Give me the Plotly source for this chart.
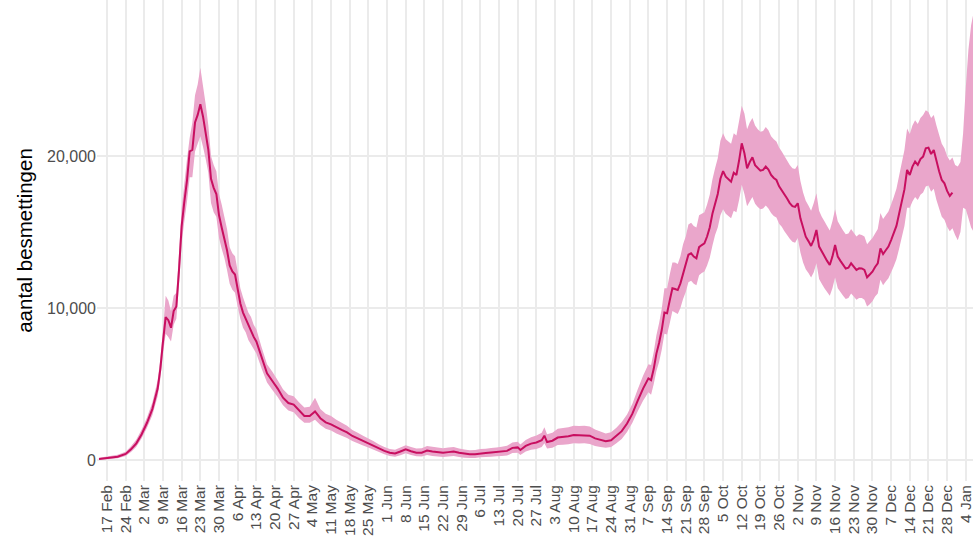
import plotly.graph_objects as go

# ---- data ----
line_dates = [
    "2020-02-14", "2020-02-17", "2020-02-21", "2020-02-24", "2020-02-26", "2020-02-28",
    "2020-03-01", "2020-03-03", "2020-03-05", "2020-03-07", "2020-03-08", "2020-03-09",
    "2020-03-10", "2020-03-11", "2020-03-12", "2020-03-13", "2020-03-14", "2020-03-15",
    "2020-03-16", "2020-03-17", "2020-03-18", "2020-03-19", "2020-03-20", "2020-03-21",
    "2020-03-22", "2020-03-23", "2020-03-24", "2020-03-25", "2020-03-26", "2020-03-27",
    "2020-03-28", "2020-03-29", "2020-03-30", "2020-03-31", "2020-04-01", "2020-04-02",
    "2020-04-03", "2020-04-04", "2020-04-05", "2020-04-06", "2020-04-07", "2020-04-08",
    "2020-04-09", "2020-04-10", "2020-04-11", "2020-04-12", "2020-04-13",
    "2020-04-15", "2020-04-17", "2020-04-19", "2020-04-21", "2020-04-23", "2020-04-25",
    "2020-04-27", "2020-04-29", "2020-05-01", "2020-05-03", "2020-05-05", "2020-05-07",
    "2020-05-09", "2020-05-11", "2020-05-13", "2020-05-15", "2020-05-17", "2020-05-19",
    "2020-05-21", "2020-05-23", "2020-05-25", "2020-05-27", "2020-05-29", "2020-05-31",
    "2020-06-02", "2020-06-04", "2020-06-06", "2020-06-08", "2020-06-10", "2020-06-12",
    "2020-06-14", "2020-06-16", "2020-06-18", "2020-06-20", "2020-06-22", "2020-06-24",
    "2020-06-26", "2020-06-28", "2020-06-30", "2020-07-02", "2020-07-04", "2020-07-06",
    "2020-07-08", "2020-07-10", "2020-07-12", "2020-07-14", "2020-07-16", "2020-07-18",
    "2020-07-20", "2020-07-21", "2020-07-23", "2020-07-25", "2020-07-27", "2020-07-29",
    "2020-07-30", "2020-07-31", "2020-08-02", "2020-08-04", "2020-08-06", "2020-08-08",
    "2020-08-10", "2020-08-12", "2020-08-14", "2020-08-16", "2020-08-18", "2020-08-20",
    "2020-08-22", "2020-08-24", "2020-08-26", "2020-08-28", "2020-08-30", "2020-09-01",
    "2020-09-03", "2020-09-05", "2020-09-07", "2020-09-08", "2020-09-09", "2020-09-10",
    "2020-09-11", "2020-09-12", "2020-09-13", "2020-09-14", "2020-09-15", "2020-09-16",
    "2020-09-17", "2020-09-18", "2020-09-19", "2020-09-20", "2020-09-21", "2020-09-22",
    "2020-09-23", "2020-09-24", "2020-09-25", "2020-09-26", "2020-09-27", "2020-09-28",
    "2020-09-29", "2020-09-30", "2020-10-01", "2020-10-02", "2020-10-03", "2020-10-04",
    "2020-10-05", "2020-10-06", "2020-10-07", "2020-10-08", "2020-10-09", "2020-10-10",
    "2020-10-11", "2020-10-12", "2020-10-13", "2020-10-14", "2020-10-15", "2020-10-16",
    "2020-10-17", "2020-10-18", "2020-10-19", "2020-10-20", "2020-10-21", "2020-10-22",
    "2020-10-23", "2020-10-24", "2020-10-25", "2020-10-26", "2020-10-27", "2020-10-28",
    "2020-10-29", "2020-10-30", "2020-10-31", "2020-11-01", "2020-11-02", "2020-11-03",
    "2020-11-04", "2020-11-05", "2020-11-06", "2020-11-07", "2020-11-08", "2020-11-09",
    "2020-11-10", "2020-11-11", "2020-11-12", "2020-11-13", "2020-11-14", "2020-11-15",
    "2020-11-16", "2020-11-17", "2020-11-18", "2020-11-19", "2020-11-20", "2020-11-21",
    "2020-11-22", "2020-11-23", "2020-11-24", "2020-11-25", "2020-11-26", "2020-11-27",
    "2020-11-28", "2020-11-29", "2020-11-30", "2020-12-01", "2020-12-02", "2020-12-03",
    "2020-12-04", "2020-12-05", "2020-12-06", "2020-12-07", "2020-12-08", "2020-12-09",
    "2020-12-10", "2020-12-11", "2020-12-12", "2020-12-13", "2020-12-14", "2020-12-15",
    "2020-12-16", "2020-12-17", "2020-12-18", "2020-12-19", "2020-12-20", "2020-12-21",
    "2020-12-22", "2020-12-23", "2020-12-24", "2020-12-25", "2020-12-26", "2020-12-27",
    "2020-12-28", "2020-12-29", "2020-12-30",
]

infections = [
    60, 130, 220, 400, 700, 1100,
    1700, 2450, 3350, 4700, 6000, 7800,
    9400, 9200, 8700, 9800, 10100, 12500,
    15400, 17000, 18400, 20300, 20400, 22200,
    22700, 23400, 22600, 21500, 20400, 18500,
    17900, 17500, 16100, 15300, 14600, 13800,
    12800, 12400, 12200, 11200, 10300, 9700,
    9300, 8800, 8500, 8100, 7800,
    6700, 5700, 5200, 4700, 4100, 3750,
    3650, 3250, 2900, 2900, 3200, 2750,
    2480, 2350, 2150, 1980, 1820, 1580,
    1420, 1250, 1100, 940, 760, 600,
    480, 430, 560, 700, 580, 480,
    480, 620, 560, 520, 480, 520,
    560, 480, 420, 380, 380, 440,
    460, 490, 520, 560, 600, 800,
    830, 660, 930, 1080, 1150, 1300,
    1600, 1180, 1270, 1480, 1520, 1560,
    1650, 1620, 1640, 1600, 1420, 1320,
    1240, 1300, 1580, 1900, 2400, 3050,
    3900, 4700, 5370, 5260, 6000, 7000,
    7700, 8550, 9700, 9650, 10500, 11300,
    11250, 11180, 11620, 12300, 12800, 13500,
    13600, 13380, 13270, 14000, 14140, 14250,
    14700, 15300, 16200, 16900, 17500, 18500,
    19000, 18640, 18450, 18310, 18900, 18750,
    19700, 20830, 20180, 19190, 19600, 19910,
    19400, 19190, 19030, 19080, 19300, 19100,
    18750, 18550, 18420, 18000, 17750, 17450,
    17200, 16900, 16700, 16650, 16890, 15900,
    15200, 14690, 14400, 14080, 14500, 15130,
    14040, 13700, 13380, 13100, 12830, 13380,
    14140, 13380, 13100, 12830, 12600, 12650,
    12940, 12720, 12500, 12610, 12600, 12500,
    12020, 12200, 12390, 12700, 12940, 13920,
    13550, 13800, 14040, 14470, 14900, 15400,
    16200, 17000, 17800, 19080, 18750, 19300,
    19630, 19410, 19800, 19960, 20500, 20550,
    20130, 20390, 19600, 19000, 18420, 18200,
    17700, 17370, 17590,
]

band_dates = line_dates + [
    "2020-12-31", "2021-01-01", "2021-01-02", "2021-01-03", "2021-01-04",
    "2021-01-05", "2021-01-06", "2021-01-07",
]

band_low = [
    0, 50, 120, 270, 520, 880,
    1430, 2130, 2950, 4200, 5350, 7000,
    8300, 8100, 7800, 8900, 9300, 11500,
    14300, 15700, 17000, 18600, 18600, 20300,
    20800, 21300, 20600, 19800, 18900, 16900,
    16300, 16000, 14600, 13900, 13300, 12500,
    11600, 11200, 11000, 10100, 9300, 8700,
    8400, 7900, 7600, 7300, 7000,
    6000, 5100, 4600, 4150, 3600, 3250,
    3150, 2750, 2450, 2450, 2650, 2300,
    2050, 1950, 1750, 1600, 1450, 1250,
    1100, 950, 820, 680, 520, 380,
    260, 220, 320, 450, 330, 240,
    230, 330, 270, 230, 200, 230,
    260, 200, 150, 130, 140, 190,
    200, 220, 240, 270, 290, 460,
    480, 330, 560, 680, 720, 850,
    1100, 750, 800, 980, 1000, 1030,
    1100, 1080, 1100, 1060, 920, 850,
    800, 850, 1100, 1380, 1850, 2450,
    3200, 3900, 4450, 4300, 5000, 5850,
    6450, 7250, 8300, 8250, 9000, 9800,
    9700, 9600, 10000, 10600, 11050, 11700,
    11800, 11600, 11500, 12150, 12300, 12400,
    12800, 13300, 14100, 14800, 15300, 16100,
    16500, 16200, 16050, 15900, 16400, 16300,
    17100, 18100, 17500, 16700, 17000, 17300,
    16850, 16650, 16500, 16550, 16750, 16550,
    16250, 16050, 15950, 15550, 15350, 15050,
    14800, 14550, 14350, 14300, 14600, 13650,
    13000, 12550, 12300, 12000, 12350, 12950,
    11900, 11600, 11300, 11050, 10800, 11300,
    12000, 11300, 11050, 10800, 10600, 10650,
    10950, 10750, 10550, 10650, 10650, 10550,
    10100, 10250, 10450, 10750, 10950, 11850,
    11500, 11750, 11950, 12350, 12750, 13200,
    13900, 14650, 15400, 16600, 16600, 17000,
    17300, 17100, 17450, 17600, 18000, 18050,
    17650, 17850, 17100, 16550, 16000, 15800,
    15350, 15050, 15250,
    14800, 14450, 15000, 16600, 16500, 15900, 15300, 15000,
]

band_high = [
    150, 230, 340, 550, 900, 1350,
    2000, 2800, 3780, 5250, 6650, 8600,
    10800, 10500, 9800, 10800, 11000, 13600,
    16600, 18200, 19800, 21200, 22200, 24000,
    24700, 25800, 24600, 23400, 22000, 20000,
    19400, 19000, 17500, 16800, 16000, 15200,
    14000, 13600, 13400, 12400, 11300, 10700,
    10200, 9700, 9400, 8900, 8600,
    7400, 6300, 5800, 5250, 4650, 4300,
    4200, 3800, 3450, 3500, 4100, 3350,
    3050, 2900, 2650, 2450, 2250, 1980,
    1800, 1600, 1420, 1230, 1020, 850,
    720, 680, 820, 970, 850, 760,
    780, 930, 870, 820, 780, 820,
    860, 760, 700, 650, 660, 720,
    740, 790, 830, 880, 940, 1150,
    1200, 1020, 1320, 1500, 1620, 1800,
    2150, 1700, 1800, 2050, 2100, 2150,
    2250, 2230, 2250, 2200, 2000, 1880,
    1750, 1820, 2120, 2500, 3000, 3700,
    4650, 5550, 6300, 6250, 7100, 8200,
    9000, 9950, 11300, 11300, 12200, 13000,
    13000, 12900, 13400, 14200, 14700, 15500,
    15600, 15400, 15300, 16100, 16200, 16300,
    16800, 17450, 18450, 19200, 19850, 21000,
    21500, 21100, 20950, 20800, 21500, 21350,
    22300, 23300, 22800, 21750, 22200, 22500,
    22000, 21750, 21600, 21650, 21900, 21700,
    21300, 21100, 20950, 20550, 20300, 20000,
    19700, 19400, 19200, 19150, 19400, 18350,
    17600, 17050, 16750, 16400, 16900, 17550,
    16400, 16000, 15700, 15400, 15100, 15700,
    16500, 15700, 15400, 15100, 14850, 14900,
    15200, 14950, 14700, 14850, 14800, 14700,
    14200, 14400, 14600, 14900, 15200, 16250,
    15850, 16100, 16350, 16800, 17300, 17850,
    18700, 19550, 20400, 21800, 21450, 22000,
    22350, 22100, 22500, 22700, 23000, 22900,
    22500, 22700, 22000, 21400, 20800, 20500,
    20000, 19700, 19900,
    19400, 19300, 19600, 21500, 24500, 27000, 28600, 29500,
]

tick_dates = [
    "2020-02-17", "2020-02-24", "2020-03-02", "2020-03-09", "2020-03-16", "2020-03-23",
    "2020-03-30", "2020-04-06", "2020-04-13", "2020-04-20", "2020-04-27", "2020-05-04",
    "2020-05-11", "2020-05-18", "2020-05-25", "2020-06-01", "2020-06-08", "2020-06-15",
    "2020-06-22", "2020-06-29", "2020-07-06", "2020-07-13", "2020-07-20", "2020-07-27",
    "2020-08-03", "2020-08-10", "2020-08-17", "2020-08-24", "2020-08-31", "2020-09-07",
    "2020-09-14", "2020-09-21", "2020-09-28", "2020-10-05", "2020-10-12", "2020-10-19",
    "2020-10-26", "2020-11-02", "2020-11-09", "2020-11-16", "2020-11-23", "2020-11-30",
    "2020-12-07", "2020-12-14", "2020-12-21", "2020-12-28", "2021-01-04",
]
tick_labels = [
    "17 Feb", "24 Feb", "2 Mar", "9 Mar", "16 Mar", "23 Mar",
    "30 Mar", "6 Apr", "13 Apr", "20 Apr", "27 Apr", "4 May",
    "11 May", "18 May", "25 May", "1 Jun", "8 Jun", "15 Jun",
    "22 Jun", "29 Jun", "6 Jul", "13 Jul", "20 Jul", "27 Jul",
    "3 Aug", "10 Aug", "17 Aug", "24 Aug", "31 Aug", "7 Sep",
    "14 Sep", "21 Sep", "28 Sep", "5 Oct", "12 Oct", "19 Oct",
    "26 Oct", "2 Nov", "9 Nov", "16 Nov", "23 Nov", "30 Nov",
    "7 Dec", "14 Dec", "21 Dec", "28 Dec", "4 Jan",
]
y_ticks = [0, 10000, 20000]
y_labels = ["0", "10,000", "20,000"]

LINE_COLOR = "#c80f60"
BAND_COLOR = "#eaa6cb"

fig = go.Figure()
fig.add_trace(go.Scatter(
    x=band_dates + band_dates[::-1],
    y=band_high + band_low[::-1],
    fill="toself", fillcolor=BAND_COLOR, mode="none",
    hoverinfo="skip", showlegend=False,
))
fig.add_trace(go.Scatter(
    x=line_dates, y=infections, mode="lines",
    line=dict(color=LINE_COLOR, width=2),
    showlegend=False,
))

fig.update_layout(
    width=973, height=552,
    margin=dict(l=97, r=0, t=0, b=71),
    paper_bgcolor="white", plot_bgcolor="white",
    font=dict(family="Liberation Sans, Arial, sans-serif", color="#4d4d4d"),
    xaxis=dict(
        type="date", automargin=False,
        range=["2020-02-13 06:00", "2021-01-06 17:00"],
        tickmode="array", tickvals=tick_dates, ticktext=tick_labels,
        tickangle=-90, tickfont=dict(size=15.5, color="#4d4d4d"),
        ticklabeloverflow="allow",
        showgrid=True, gridcolor="#ebebeb", gridwidth=1.6,
        zeroline=False, showline=False, ticks="", ticklen=0,
    ),
    yaxis=dict(
        automargin=False,
        range=[-1380, 30260],
        tickmode="array", tickvals=y_ticks, ticktext=y_labels,
        tickfont=dict(size=16, color="#4d4d4d"),
        showgrid=True, gridcolor="#ebebeb", gridwidth=1.6,
        zeroline=False, showline=False, ticks="",
        title=dict(text="aantal besmettingen", font=dict(size=20.5, color="black"), standoff=8),
    ),
)

fig.write_html(
    "out.html",
    config={"displayModeBar": False},
    post_script="document.body.style.margin='0px';document.body.style.overflow='hidden';",
)
